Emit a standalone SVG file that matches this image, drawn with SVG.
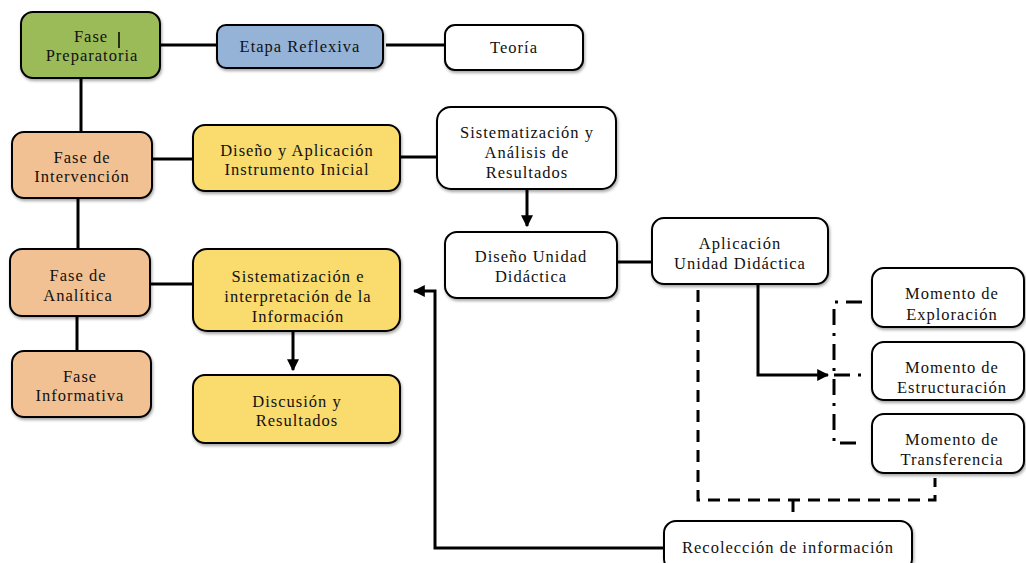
<svg xmlns="http://www.w3.org/2000/svg" width="1026" height="563" viewBox="0 0 1026 563" font-family="'Liberation Serif', 'Times New Roman', serif">
<defs>
<style>
.b{stroke:#000;stroke-width:2}
.g{fill:#9BBB59}.bl{fill:#95B3D7}.w{fill:#fff}.p{fill:#F2C193}.y{fill:#F9DB6E}
text{font-family:'Liberation Serif','Times New Roman',serif;font-size:16.5px;fill:#111;text-anchor:middle;letter-spacing:1px}
.c{fill:none;stroke:#000;stroke-width:3}
.d{fill:none;stroke:#000;stroke-width:3;stroke-dasharray:12 8}
.dd{fill:none;stroke:#000;stroke-width:3;stroke-dasharray:16 8 3 8}
</style>
<marker id="a" viewBox="0 0 10 10" refX="9" refY="5" markerWidth="4" markerHeight="4" orient="auto"><path d="M0,0L10,5L0,10z" fill="#000"/></marker>
<filter id="s" x="-10%" y="-10%" width="130%" height="140%"><feDropShadow dx="1" dy="2" stdDeviation="1.5" flood-opacity="0.35"/></filter>
</defs>
<g id="connectors">
<path class="c" d="M160,45H217M386,45H445M81,78V132M152,159H193M400,157H437M78,198V249M150,284H193M77,316V351"/>
<path class="c" d="M527,189V226" marker-end="url(#a)"/>
<path class="c" d="M617,262H652"/>
<path class="c" d="M293,331V370" marker-end="url(#a)"/>
<path class="c" d="M758,284V375H828" marker-end="url(#a)"/>
<path class="c" d="M664,548H435V291H414" marker-end="url(#a)"/>
<path class="d" d="M698,290V500H935V478M793,500V518"/>
<path class="dd" d="M862,302H834V443H862M834,375H862"/>
</g>
<g id="fase-preparatoria"><rect class="b g" x="21" y="12" width="139" height="66" rx="12" filter="url(#s)"/><text x="91" y="42">Fase</text><line x1="119" y1="32" x2="119" y2="48" stroke="#000" stroke-width="1.5"/><text x="92" y="61">Preparatoria</text></g>
<g id="etapa-reflexiva"><rect class="b bl" x="217" y="25" width="166" height="43" rx="9" filter="url(#s)"/><text x="300" y="52">Etapa Reflexiva</text></g>
<g id="teoria"><rect class="b w" x="445" y="25" width="138" height="45" rx="10" filter="url(#s)"/><text x="514" y="53">Teoría</text></g>
<g id="fase-intervencion"><rect class="b p" x="12" y="132" width="140" height="66" rx="12" filter="url(#s)"/><text x="82" y="163">Fase de</text><text x="82" y="182">Intervención</text></g>
<g id="diseno-aplicacion"><rect class="b y" x="193" y="125" width="207" height="66" rx="12" filter="url(#s)"/><text x="297" y="156">Diseño y Aplicación</text><text x="297" y="175">Instrumento Inicial</text></g>
<g id="sistematizacion-analisis"><rect class="b w" x="437" y="107" width="179" height="82" rx="14" filter="url(#s)"/><text x="527" y="138">Sistematización y</text><text x="527" y="158">Análisis de</text><text x="527" y="178">Resultados</text></g>
<g id="diseno-unidad"><rect class="b w" x="445" y="232" width="172" height="66" rx="12" filter="url(#s)"/><text x="531" y="262">Diseño Unidad</text><text x="531" y="282">Didáctica</text></g>
<g id="aplicacion-unidad"><rect class="b w" x="652" y="218" width="176" height="66" rx="12" filter="url(#s)"/><text x="740" y="249">Aplicación</text><text x="740" y="269">Unidad Didáctica</text></g>
<g id="fase-analitica"><rect class="b p" x="10" y="249" width="140" height="67" rx="12" filter="url(#s)"/><text x="78" y="281">Fase de</text><text x="78" y="301">Analítica</text></g>
<g id="sistematizacion-interpretacion"><rect class="b y" x="193" y="249" width="207" height="82" rx="14" filter="url(#s)"/><text x="298" y="282">Sistematización e</text><text x="298" y="302">interpretación de la</text><text x="298" y="322">Información</text></g>
<g id="fase-informativa"><rect class="b p" x="12" y="351" width="139" height="66" rx="12" filter="url(#s)"/><text x="80" y="382">Fase</text><text x="80" y="401">Informativa</text></g>
<g id="discusion"><rect class="b y" x="193" y="375" width="207" height="68" rx="12" filter="url(#s)"/><text x="297" y="407">Discusión y</text><text x="297" y="426">Resultados</text></g>
<g id="momento-exploracion"><rect class="b w" x="872" y="268" width="152" height="59" rx="12" filter="url(#s)"/><text x="952" y="299">Momento de</text><text x="952" y="320">Exploración</text></g>
<g id="momento-estructuracion"><rect class="b w" x="872" y="342" width="152" height="58" rx="12" filter="url(#s)"/><text x="952" y="373">Momento de</text><text x="952" y="393">Estructuración</text></g>
<g id="momento-transferencia"><rect class="b w" x="872" y="414" width="152" height="59" rx="12" filter="url(#s)"/><text x="952" y="445">Momento de</text><text x="952" y="465">Transferencia</text></g>
<g id="recoleccion"><rect class="b w" x="664" y="521" width="248" height="50" rx="12" filter="url(#s)"/><text x="788" y="553">Recolección de información</text></g>
</svg>
